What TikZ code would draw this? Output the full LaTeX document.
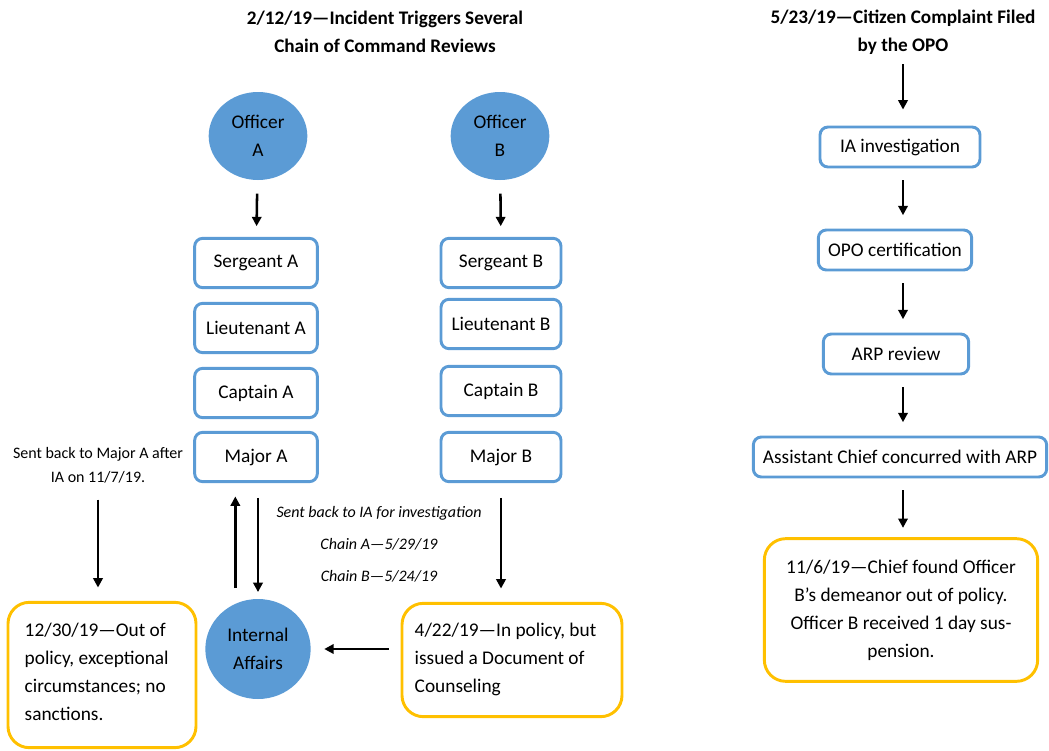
\documentclass[tikz,border=0pt]{standalone}
\usepackage{fontspec}
\setmainfont{Carlito}
\usetikzlibrary{shapes.geometric,arrows.meta}
\definecolor{boxblue}{HTML}{5B9BD5}
\definecolor{boxgold}{HTML}{FFC000}
\tikzset{
  officer/.style={ellipse, fill=boxblue, minimum width=74pt, minimum height=66pt, inner sep=0pt, align=center, font=\fontsize{14.5}{21}\selectfont},
  rank/.style={draw=boxblue, line width=2.2pt, rounded corners=6pt, fill=white, minimum height=37pt, minimum width=92pt, font=\fontsize{14.5}{17}\selectfont},
  step box/.style={rank, minimum height=30pt},
  outcome/.style={draw=boxgold, line width=2.2pt, rounded corners=16pt, inner sep=0pt, font=\fontsize{14.5}{21}\selectfont},
  note/.style={align=center, font=\fontsize{12}{18}\selectfont},
  heading/.style={align=center, font=\bfseries\fontsize{14.4}{21}\selectfont},
  flow/.style={-{Triangle[width=7pt,length=7pt]}, line width=1.9pt, shorten <=9pt, shorten >=10pt},
}
\begin{document}
\begin{tikzpicture}[x=0.75pt,y=-0.75pt]
  \path[use as bounding box] (0,0) rectangle (1049,750);

  % chains of command
  \node[heading] (titleL) at (385,32) {2/12/19—Incident Triggers Several\\Chain of Command Reviews};
  \node[officer] (offA) at (258,136) {Officer\\A};
  \node[officer] (offB) at (500,136) {Officer\\B};
  \node[rank] (sgtA) at (256,263) {Sergeant A};
  \node[rank] (ltA) at (256,328) {Lieutenant A};
  \node[rank] (cptA) at (256,393) {Captain A};
  \node[rank] (majA) at (256,457) {Major A};
  \node[rank, minimum width=90pt] (sgtB) at (501,263) {Sergeant B};
  \node[rank, minimum width=90pt] (ltB) at (501,324) {Lieutenant B};
  \node[rank, minimum width=90pt] (cptB) at (501,391) {Captain B};
  \node[rank, minimum width=90pt] (majB) at (501,457) {Major B};
  \draw[flow, shorten <=10pt, shorten >=8pt] (offA) -- (sgtA);
  \draw[flow, shorten <=10pt, shorten >=8pt] (offB) -- (sgtB);

  \node[officer, minimum width=79pt, minimum height=75pt] (ia) at (258,649) {Internal\\Affairs};
  \node[note] (backnote) at (98,465) {Sent back to Major A after\\IA on 11/7/19.};
  \node[note, font=\itshape\fontsize{12}{24}\selectfont] (sentnote) at (379,544) {Sent back to IA for investigation\\Chain A—5/29/19\\Chain B—5/24/19};

  \node[outcome, minimum width=141pt, minimum height=109pt] (outA) at (102,675) {};
  \node[align=left, font=\fontsize{14.5}{21}\selectfont, anchor=north west] (outAtxt) at (20,618) {12/30/19—Out of\\policy, exceptional\\circumstances; no\\sanctions.};
  \node[outcome, minimum width=165pt, minimum height=85pt] (outB) at (512,660) {};
  \node[align=left, font=\fontsize{14.5}{21}\selectfont, anchor=north west] (outBtxt) at (410,618) {4/22/19—In policy, but\\issued a Document of\\Counseling};

  \draw[flow] (backnote.south) -- (backnote.south |- outA.north);
  \draw[flow, shorten <=8pt, shorten >=10pt] ([xshift=-17pt]ia.north) -- ([xshift=-17pt]ia.north |- majA.south);
  \draw[flow, shorten <=11pt, shorten >=5pt] (majA.south -| ia.north) -- (ia.north);
  \draw[flow, shorten <=11pt, shorten >=10pt] (majB.south) -- (majB.south |- outB.north);
  \draw[flow, shorten <=9pt, shorten >=10pt] (outB.west |- ia.east) -- (ia.east);

  % citizen complaint
  \node[heading] (titleR) at (903,32) {5/23/19—Citizen Complaint Filed\\by the OPO};
  \node[step box, minimum width=120pt] (iainv) at (900,147) {IA investigation};
  \node[step box, minimum width=115pt] (opo) at (895,250) {OPO certification};
  \node[step box, minimum width=109pt] (arp) at (896,354) {ARP review};
  \node[step box, minimum width=220pt] (asst) at (900,457) {Assistant Chief concurred with ARP};
  \node[outcome, minimum width=205pt, minimum height=107pt, align=center] (chief) at (901,610) {11/6/19—Chief found Officer\\B’s demeanor out of policy.\\Officer B received 1 day sus-\\pension.};

  \draw[flow, shorten <=4pt, shorten >=12pt] (titleR.south) -- (titleR.south |- iainv.north);
  \draw[flow] (iainv.south -| titleR.south) -- (opo.north -| titleR.south);
  \draw[flow] (opo.south -| titleR.south) -- (arp.north -| titleR.south);
  \draw[flow] (arp.south -| titleR.south) -- (asst.north -| titleR.south);
  \draw[flow, shorten >=7pt] (asst.south -| titleR.south) -- (chief.north -| titleR.south);
\end{tikzpicture}
\end{document}
